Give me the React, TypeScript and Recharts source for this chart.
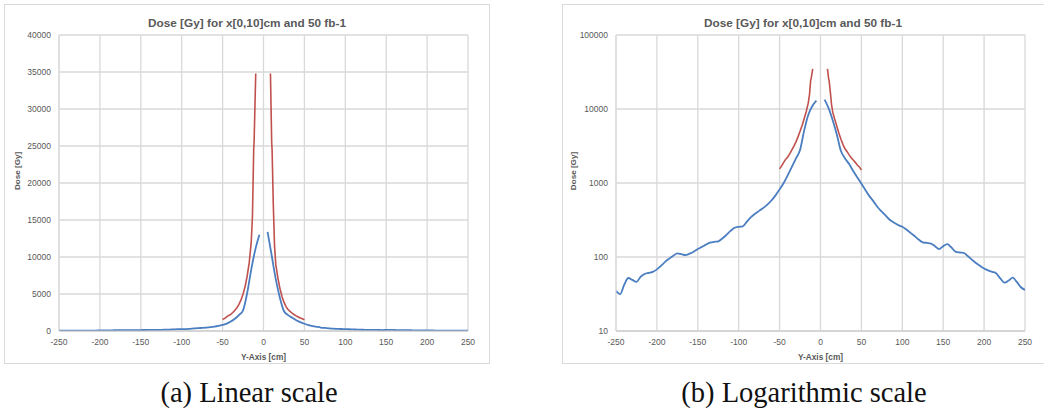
import React from 'react';
import { LineChart, Line, XAxis, YAxis, CartesianGrid } from 'recharts';

const X_TICKS = [-250, -200, -150, -100, -50, 0, 50, 100, 150, 200, 250];
const LIN_TICKS = [0, 5000, 10000, 15000, 20000, 25000, 30000, 35000, 40000];
const LOG_TICKS = [10, 100, 1000, 10000, 100000];

const TITLE = 'Dose [Gy] for x[0,10]cm and 50 fb-1';
const Y_LABEL = 'Dose [Gy]';
const X_LABEL = 'Y-Axis [cm]';
const CAPTIONS = ['(a) Linear scale', '(b) Logarithmic scale'];

const BLUE_L_X = [-250, -245, -240, -235, -230, -225, -220, -215, -210, -205, -200, -195, -190, -185, -180, -175, -170, -165, -160, -155, -150, -145, -140, -135, -130, -125, -120, -115, -110, -105, -100, -95, -90, -85, -80, -75, -70, -65, -60, -55, -50, -45, -40, -35, -30, -25, -20, -15, -10, -5];
const BLUE_L_Y = [35, 31.5, 42, 52, 49, 46, 54, 59, 61, 63, 68, 76, 86, 95, 104, 112, 109, 106, 111, 118, 128, 137, 147, 156, 160, 163, 178, 199, 225, 248, 256, 260, 300, 345, 385, 420, 460, 510, 580, 680, 820, 1000, 1280, 1650, 2150, 2800, 5100, 8300, 11000, 13000];

const BLUE_R_X = [5, 10, 15, 20, 25, 30, 35, 40, 45, 50, 55, 60, 65, 70, 75, 80, 85, 90, 95, 100, 105, 110, 115, 120, 125, 130, 135, 140, 145, 150, 155, 160, 165, 170, 175, 180, 185, 190, 195, 200, 205, 210, 215, 220, 225, 230, 235, 240, 245, 250];
const BLUE_R_Y = [13400, 10200, 7000, 4500, 2700, 2150, 1800, 1450, 1190, 980, 800, 660, 560, 470, 410, 360, 316, 290, 270, 257, 235, 212, 192, 172, 158, 155, 152, 140, 128, 140, 149, 135, 118, 115, 114, 103, 92, 83, 76, 70, 66, 63, 60, 51, 45, 48, 52.5, 46, 39, 36];

const RED_L_X = [-50, -47.5, -45, -42.5, -40, -37.5, -35, -32.5, -30, -27.5, -25, -22.5, -20, -17.5, -15, -13.5, -12, -11.5, -9.5];
const RED_L_Y = [1550, 1700, 1900, 2100, 2250, 2500, 2800, 3150, 3600, 4200, 5000, 6000, 7400, 9200, 12000, 15500, 24500, 25500, 34800];

const RED_R_X = [8.5, 10, 10.5, 12, 13.5, 15, 17.5, 20, 22.5, 25, 27.5, 30, 32.5, 35, 37.5, 40, 42.5, 45, 47.5, 50];
const RED_R_Y = [34800, 25500, 24500, 17000, 11500, 9000, 7200, 5800, 4700, 3900, 3300, 2900, 2650, 2400, 2200, 2050, 1900, 1750, 1650, 1500];

const zip = (xs: number[], ys: number[]) => xs.map((x, i) => ({ x, y: ys[i] }));
const blueLeft = zip(BLUE_L_X, BLUE_L_Y);
const blueRight = zip(BLUE_R_X, BLUE_R_Y);
const redLeft = zip(RED_L_X, RED_L_Y);
const redRight = zip(RED_R_X, RED_R_Y);

const BLUE = '#4a7ec1';
const RED = '#c0504d';
const GRID = '#d9d9d9';
const TEXT = '#595959';
const SANS = '"Liberation Sans", Arial, sans-serif';

const tickStyle = { fontSize: 8.5, fill: TEXT, fontFamily: SANS };

function Panel({ log, left, width, yAxisW, rightM }: { log: boolean; left: number; width: number; yAxisW: number; rightM: number }) {
  return (
    <div style={{ position: 'absolute', left, top: 0, width, height: 363 }}>
      <LineChart width={width} height={363} margin={{ top: 35, right: rightM, left: 0, bottom: 0 }}>
        <CartesianGrid stroke={GRID} strokeWidth={1.3} />
        <XAxis
          type="number"
          dataKey="x"
          domain={[-250, 250]}
          ticks={X_TICKS}
          interval={0}
          height={32}
          tickLine={false}
          axisLine={{ stroke: '#c8c8c8' }}
          tick={tickStyle}
          allowDataOverflow
        />
        {log ? (
          <YAxis
            type="number"
            scale="log"
            domain={[10, 100000]}
            ticks={LOG_TICKS}
            interval={0}
            width={yAxisW}
            tickLine={false}
            axisLine={{ stroke: GRID }}
            tick={tickStyle}
            allowDataOverflow
          />
        ) : (
          <YAxis
            type="number"
            domain={[0, 40000]}
            ticks={LIN_TICKS}
            interval={0}
            width={yAxisW}
            tickLine={false}
            axisLine={{ stroke: GRID }}
            tick={tickStyle}
            allowDataOverflow
          />
        )}
        <Line data={blueLeft} dataKey="y" type="monotone" stroke={BLUE} strokeWidth={1.8} dot={false} isAnimationActive={false} />
        <Line data={blueRight} dataKey="y" type="monotone" stroke={BLUE} strokeWidth={1.8} dot={false} isAnimationActive={false} />
        <Line data={redLeft} dataKey="y" type="linear" stroke={RED} strokeWidth={1.6} dot={false} isAnimationActive={false} />
        <Line data={redRight} dataKey="y" type="linear" stroke={RED} strokeWidth={1.6} dot={false} isAnimationActive={false} />
      </LineChart>
    </div>
  );
}

export default function App() {
  return (
    <div style={{ position: 'absolute', left: 0, top: 0, width: 1044, height: 410, background: '#fff', overflow: 'hidden' }}>
      <div style={{ position: 'absolute', left: 4, top: 4, width: 486, height: 360, boxSizing: 'border-box', border: `1px solid ${GRID}` }} />
      <div style={{ position: 'absolute', left: 562, top: 4, width: 490, height: 360, boxSizing: 'border-box', border: `1px solid ${GRID}` }} />
      <Panel log={false} left={0} width={489} yAxisW={59} rightM={21} />
      <Panel log={true} left={562} width={482} yAxisW={54} rightM={19} />
      <svg width={1044} height={410} style={{ position: 'absolute', left: 0, top: 0, pointerEvents: 'none' }}>
        <text x={247} y={27.3} textAnchor="middle" fontFamily={SANS} fontWeight="bold" fontSize={11.8} fill={TEXT}>{TITLE}</text>
        <text x={803} y={27.3} textAnchor="middle" fontFamily={SANS} fontWeight="bold" fontSize={11.8} fill={TEXT}>{TITLE}</text>
        <text x={263.5} y={360} textAnchor="middle" fontFamily={SANS} fontWeight="bold" fontSize={8.3} fill={TEXT}>{X_LABEL}</text>
        <text x={820.5} y={360} textAnchor="middle" fontFamily={SANS} fontWeight="bold" fontSize={8.3} fill={TEXT}>{X_LABEL}</text>
        <text x={17} y={171} transform="rotate(-90 17 171)" textAnchor="middle" dominantBaseline="central" fontFamily={SANS} fontWeight="bold" fontSize={8.1} fill={TEXT}>{Y_LABEL}</text>
        <text x={573} y={171} transform="rotate(-90 573 171)" textAnchor="middle" dominantBaseline="central" fontFamily={SANS} fontWeight="bold" fontSize={8.1} fill={TEXT}>{Y_LABEL}</text>
        <text x={249} y={402} textAnchor="middle" fontFamily='"Liberation Serif", serif' fontSize={28.5} fill="#111">{CAPTIONS[0]}</text>
        <text x={804} y={402} textAnchor="middle" fontFamily='"Liberation Serif", serif' fontSize={28.5} fill="#111">{CAPTIONS[1]}</text>
      </svg>
    </div>
  );
}
